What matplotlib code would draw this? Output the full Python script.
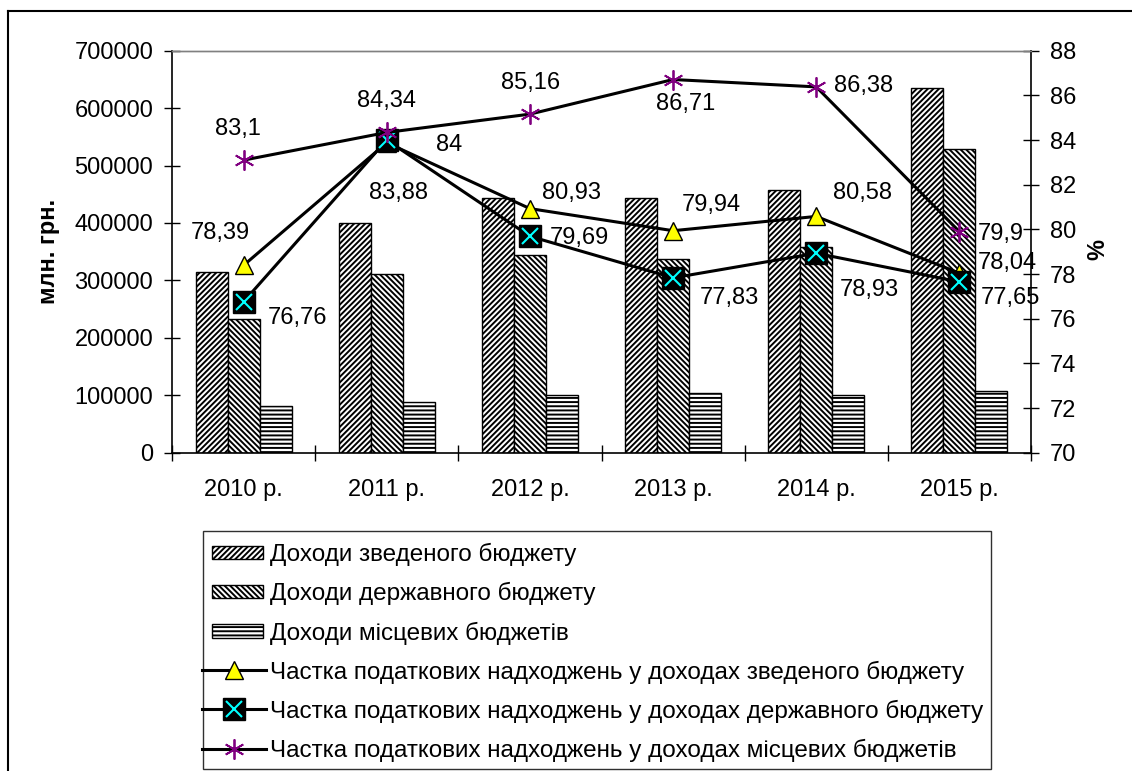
import matplotlib
matplotlib.use('Agg')
import matplotlib.pyplot as plt
from matplotlib.lines import Line2D
from matplotlib.patches import Rectangle
from matplotlib.legend_handler import HandlerTuple, HandlerPatch
from matplotlib.ticker import FixedLocator, FixedFormatter
import numpy as np

plt.rcParams['font.family'] = ['Liberation Sans', 'DejaVu Sans']
plt.rcParams['hatch.linewidth'] = 1.4

# ---------------- data ----------------
years = ['2010 р.', '2011 р.', '2012 р.', '2013 р.', '2014 р.', '2015 р.']
rev_consolidated = [314500, 399400, 444000, 444000, 456900, 635000]
rev_state = [233300, 311200, 343700, 337300, 358700, 529300]
rev_local = [81300, 88300, 100500, 104500, 100500, 107400]

share_consolidated = [78.39, 83.88, 80.93, 79.94, 80.58, 78.04]
share_state = [76.76, 84, 79.69, 77.83, 78.93, 77.65]
share_local = [83.1, 84.34, 85.16, 86.71, 86.38, 79.9]

left_ticks = [0, 100000, 200000, 300000, 400000, 500000, 600000, 700000]
right_ticks = [70, 72, 74, 76, 78, 80, 82, 84, 86, 88]

labels = ['Доходи зведеного бюджету',
          'Доходи державного бюджету',
          'Доходи місцевих бюджетів',
          'Частка податкових надходжень у доходах зведеного бюджету',
          'Частка податкових надходжень у доходах державного бюджету',
          'Частка податкових надходжень у доходах місцевих бюджетів']

# label offsets (pixels) for data labels
off_consolidated = [(-23, 32), (12, -50), (42, 16), (38, 26), (46, 23), (48, 10)]
off_state = [(54, -16), (62, -5), (49, -2), (56, -20), (53, -37), (51, -16)]
off_local = [(-6, 31), (0, 31), (1, 31), (13, -24), (47, 1), (41, -2)]

W, H = 1132, 771
FS = 17
fig = plt.figure(figsize=(W / 100, H / 100), dpi=100)
ax = fig.add_axes([172 / W, 1 - 452.7 / H, (1031 - 172) / W, (452.7 - 50.7) / H])
ax2 = ax.twinx()

x = np.arange(len(years))
w = 0.2233
b1 = ax.bar(x - w, rev_consolidated, w, facecolor='white', edgecolor='black',
            hatch='//////', linewidth=1.0, zorder=2)
b2 = ax.bar(x, rev_state, w, facecolor='white', edgecolor='black',
            hatch='\\\\\\\\\\\\', linewidth=1.0, zorder=2)
b3 = ax.bar(x + w, rev_local, w, facecolor='white', edgecolor='black',
            hatch='----', linewidth=1.0, zorder=2)

lw = 2.2
l1, = ax2.plot(x, share_consolidated, color='black', lw=lw, marker='^', ms=12.5,
               mfc='#FFFF00', mec='black', mew=1.0, zorder=3)
l2, = ax2.plot(x, share_state, color='black', lw=lw, marker='s', ms=15.5,
               mfc='black', mec='black', zorder=4)
l2x, = ax2.plot(x, share_state, ls='none', marker='x', ms=12, mec='#00FFFF',
                mew=1.5, zorder=4)
l3, = ax2.plot(x, share_local, color='black', lw=lw, marker=(6, 2, 0), ms=14.5,
               mec='#800080', mew=1.3, zorder=5)


def fmt(v):
    return f'{v:g}'.replace('.', ',')


for series, offs in ((share_consolidated, off_consolidated),
                     (share_state, off_state),
                     (share_local, off_local)):
    for xi, v, (dx, dy) in zip(x, series, offs):
        ax2.annotate(fmt(v), (xi, v), xytext=(dx, dy), textcoords='offset pixels',
                     ha='center', va='center', fontsize=FS, zorder=10,
                     annotation_clip=False)

# axes
ax.set_xlim(-0.5, len(years) - 0.5)
ax.set_ylim(0, 700000)
ax.yaxis.set_major_locator(FixedLocator(left_ticks))
ax.yaxis.set_major_formatter(FixedFormatter([str(t) for t in left_ticks]))
ax2.set_ylim(70, 88)
ax2.yaxis.set_major_locator(FixedLocator(right_ticks))
ax2.yaxis.set_major_formatter(FixedFormatter([str(t) for t in right_ticks]))

ax.set_xticks(x)
ax.set_xticklabels(years)
ax.set_xticks(np.arange(-0.5, len(years), 1), minor=True)
ax.tick_params(axis='x', which='major', length=0, pad=19, labelsize=FS)
ax.tick_params(axis='x', which='minor', direction='inout', length=11, width=1)
ax.tick_params(axis='y', direction='inout', length=11, width=1, pad=8, labelsize=FS)
ax2.tick_params(axis='y', direction='inout', length=11, width=1, pad=8, labelsize=FS)

for a in (ax, ax2):
    a.spines['top'].set_color('#808080')
    a.spines['top'].set_linewidth(1.0)
ax.spines['right'].set_visible(False)
ax2.spines['left'].set_visible(False)
ax2.spines['bottom'].set_visible(False)
ax.spines['left'].set_linewidth(1.2)
ax.spines['bottom'].set_linewidth(1.2)
ax2.spines['right'].set_linewidth(1.2)

fig.text(49 / W, 1 - 251 / H, 'млн. грн.', rotation=90, ha='center', va='center',
         fontsize=17, fontweight='bold')
fig.text(1098 / W, 1 - 250 / H, '%', rotation=90, ha='center', va='center',
         fontsize=17, fontweight='bold')

# outer frame (cropped)
fig.add_artist(Line2D([8 / W, 1], [1 - 11 / H, 1 - 11 / H], transform=fig.transFigure,
                      color='black', lw=1.5))
fig.add_artist(Line2D([8 / W, 8 / W], [0, 1 - 11 / H], transform=fig.transFigure,
                      color='black', lw=1.5))

# legend frame drawn manually
fig.add_artist(Rectangle((203 / W, 1 - 768.7 / H), (990.7 - 203) / W, (768.7 - 530.7) / H,
                         transform=fig.transFigure, fill=False, edgecolor='#303030',
                         lw=1.0))


def small_patch(legend, orig_handle, xdescent, ydescent, width, height, fontsize):
    ph = height * 0.78
    return Rectangle((-xdescent + 0.155 * width, -ydescent + (height - ph) / 2),
                     0.8 * width, ph)


LFS = 17.5
leg = fig.legend([b1[0], b2[0], b3[0], l1, (l2, l2x), l3], labels, loc='upper left',
                 bbox_to_anchor=(202 / W, 1 - 543 / H), frameon=False,
                 fontsize=LFS, handlelength=2.63, handletextpad=0.17,
                 labelspacing=0.66, borderpad=0, borderaxespad=0,
                 handler_map={tuple: HandlerTuple(ndivide=1),
                              Rectangle: HandlerPatch(patch_func=small_patch)})

fig.savefig('out.png', dpi=100)
